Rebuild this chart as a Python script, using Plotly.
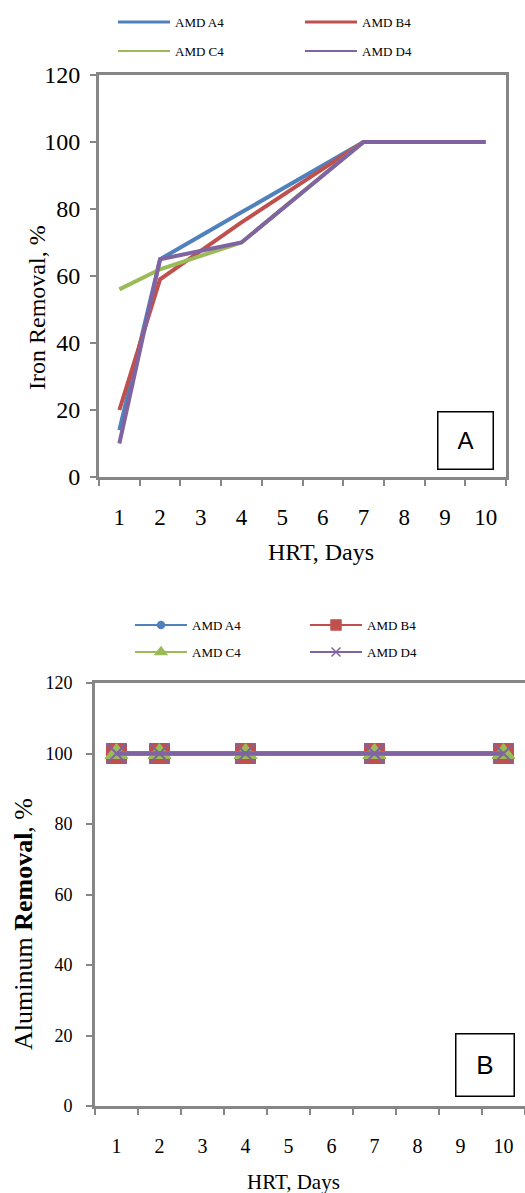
import plotly.graph_objects as go

# ---- data ----
categories = [1, 2, 3, 4, 5, 6, 7, 8, 9, 10]
hrt_days = [1, 2, 4, 7, 10]
series_names = ["AMD A4", "AMD B4", "AMD C4", "AMD D4"]
iron_a4 = [14, 65, 79, 100, 100]
iron_b4 = [20, 59, 76, 100, 100]
iron_c4 = [56, 62, 70, 100, 100]
iron_d4 = [10, 65, 70, 100, 100]
alum_a4 = [100, 100, 100, 100, 100]
alum_b4 = [100, 100, 100, 100, 100]
alum_c4 = [100, 100, 100, 100, 100]
alum_d4 = [100, 100, 100, 100, 100]
y_ticks = [0, 20, 40, 60, 80, 100, 120]

colors = ["#4F81BD", "#C0504D", "#9BBB59", "#8064A2"]
SERIF = "Liberation Serif, Times New Roman, serif"
SANS = "Liberation Sans, Arial, sans-serif"
W, H = 525, 1193

fig = go.Figure()

# ---- chart A: iron ----
iron = [iron_a4, iron_b4, iron_c4, iron_d4]
for name, ys, c in zip(series_names, iron, colors):
    fig.add_trace(go.Scatter(x=hrt_days, y=ys, mode="lines", name=name,
                             line=dict(color=c, width=4), showlegend=False,
                             xaxis="x", yaxis="y"))
# legend entries A
legA = ["legend", "legend", "legend2", "legend2"]
legA_w = [3, 3, 2, 2]
for name, c, lg, lw in zip(series_names, colors, legA, legA_w):
    fig.add_trace(go.Scatter(x=[None], y=[None], mode="lines", name=name,
                             line=dict(color=c, width=lw), legend=lg,
                             xaxis="x", yaxis="y"))

# ---- chart B: aluminum ----
alum = [alum_a4, alum_b4, alum_c4, alum_d4]
symbols = ["circle", "square", "triangle-up", "x-thin"]
msizes = [9, 20, 20, 20]
for name, ys, c, s, ms in zip(series_names, alum, colors, symbols, msizes):
    fig.add_trace(go.Scatter(x=hrt_days, y=ys, mode="lines+markers", name=name,
                             line=dict(color=c, width=4.5),
                             marker=dict(symbol=s, size=ms, color=c,
                                         line=dict(color=c, width=2 if s == "x-thin" else 1)),
                             showlegend=False, xaxis="x2", yaxis="y2"))
legB = ["legend3", "legend3", "legend4", "legend4"]
lsizes = [7, 10, 10, 9]
for name, c, s, ms, lg in zip(series_names, colors, symbols, lsizes, legB):
    fig.add_trace(go.Scatter(x=[None], y=[None], mode="lines+markers", name=name,
                             line=dict(color=c, width=2),
                             marker=dict(symbol=s, size=ms, color=c,
                                         line=dict(color=c, width=1.5)),
                             legend=lg, xaxis="x2", yaxis="y2"))

AX = "#868686"
boundaries = [c - 0.5 for c in categories] + [categories[-1] + 0.5]

def xax(domain, anchor, fs, standoff, mirror):
    return dict(domain=domain, anchor=anchor, range=[0.5, 10.5],
                tickvals=categories, ticktext=[str(c) for c in categories],
                ticks="", showgrid=False, zeroline=False,
                showline=True, linecolor=AX, linewidth=3, mirror=mirror,
                tickfont=dict(family=SERIF, size=fs, color="black"),
                ticklabelstandoff=standoff,
                minor=dict(tickvals=boundaries, ticks="outside", ticklen=6,
                           tickcolor=AX, tickwidth=2, showgrid=False))

def yax(domain, anchor, fs, standoff, mirror):
    return dict(domain=domain, anchor=anchor, range=[0, 120],
                tickvals=y_ticks, ticks="outside", ticklen=6, tickcolor=AX,
                tickwidth=2, showgrid=False, zeroline=False,
                showline=True, linecolor=AX, linewidth=3, mirror=mirror,
                tickfont=dict(family=SERIF, size=fs, color="black"),
                ticklabelstandoff=standoff)

fig.update_layout(
    width=W, height=H, margin=dict(l=0, r=0, t=0, b=0, autoexpand=False),
    paper_bgcolor="white", plot_bgcolor="white",
    xaxis=xax([99 / W, 506 / W], "y", 23, 17, True),
    yaxis=yax([1 - 477 / H, 1 - 75 / H], "x", 24, 5, True),
    xaxis2=xax([95 / W, 1.0], "y2", 20, 20, True),
    yaxis2=yax([1 - 1106 / H, 1 - 683 / H], "x2", 18, 10, False),
)

def leg(x, y, ew, iw):
    return dict(orientation="h", x=x, y=y, xanchor="left", yanchor="middle",
                entrywidth=ew, entrywidthmode="pixels", itemwidth=iw,
                font=dict(family=SERIF, size=13, color="black"),
                bgcolor="rgba(0,0,0,0)", itemclick=False)

fig.update_layout(
    legend=leg(113 / W, 1 - 22 / H, 120, 52),
    legend2=leg(113 / W, 1 - 51 / H, 120, 52),
    legend3=leg(130 / W, 1 - 625 / H, 108, 52),
    legend4=leg(130 / W, 1 - 652 / H, 108, 52),
)

ann = []
# axis titles
ann.append(dict(text="Iron Removal, %", x=37 / W, y=1 - 308 / H, textangle=-90,
                font=dict(family=SERIF, size=24, color="black")))
ann.append(dict(text="HRT, Days", x=321 / W, y=1 - 552 / H,
                font=dict(family=SERIF, size=24, color="black")))
ann.append(dict(text="Aluminum <b>Removal</b>, %", x=23 / W, y=1 - 924 / H, textangle=-90,
                font=dict(family=SERIF, size=26, color="black")))
ann.append(dict(text="HRT, Days", x=293 / W, y=1 - 1182 / H,
                font=dict(family=SERIF, size=21, color="black")))
# panel labels
ann.append(dict(text="A", x=465 / W, y=1 - 441 / H, width=54, height=56, borderpad=0,
                bordercolor="black", borderwidth=1.5, bgcolor="white",
                font=dict(family=SANS, size=24, color="black")))
ann.append(dict(text="B", x=484.5 / W, y=1 - 1064.5 / H, width=57, height=61, borderpad=0,
                bordercolor="black", borderwidth=1.5, bgcolor="white",
                font=dict(family=SANS, size=26, color="black")))
for a in ann:
    a.update(xref="paper", yref="paper", showarrow=False, xanchor="center", yanchor="middle")
fig.update_layout(annotations=ann)

fig.write_html("out.html", config={"displayModeBar": False},
               post_script="document.body.style.margin='0';document.body.style.overflow='hidden';")
